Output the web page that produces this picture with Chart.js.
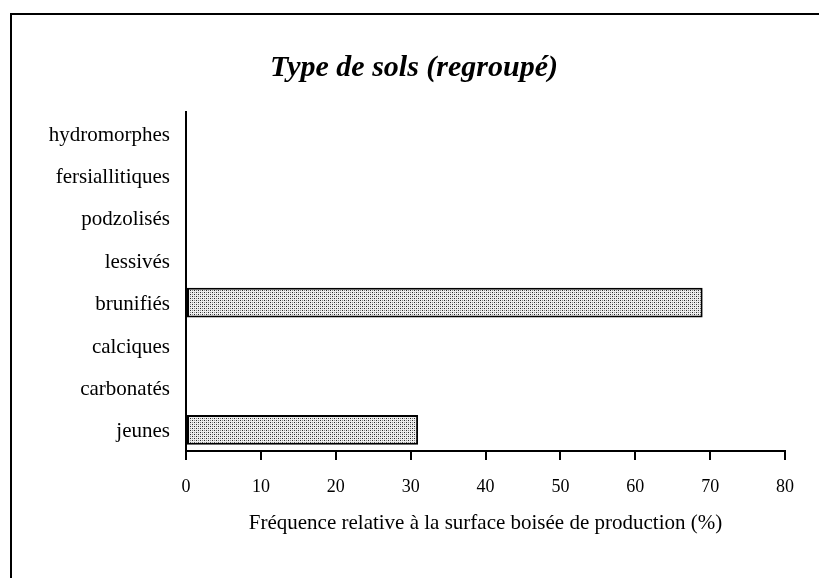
<!DOCTYPE html>
<html lang="fr">
<head>
    <meta charset="UTF-8">
    <title>Type de sols (regroupé)</title>
    <script src="https://cdn.jsdelivr.net/npm/chart.js"></script>
    <style>
        body { margin: 0; background: #ffffff; overflow: hidden; }
        .frame {
            position: absolute;
            left: 10px;
            top: 13px;
            width: 900px;
            height: 700px;
            border-top: 2px solid #000;
            border-left: 2px solid #000;
        }
        .wrap { position: absolute; left: 0; top: 0; width: 819px; height: 578px; }
    </style>
</head>
<body>
    <div class="frame"></div>
    <div class="wrap">
        <canvas id="solsChart" width="819" height="578"></canvas>
    </div>

    <script>
        // Données
        const categories = ['hydromorphes', 'fersiallitiques', 'podzolisés', 'lessivés',
                            'brunifiés', 'calciques', 'carbonatés', 'jeunes'];
        const frequences = [0, 0, 0, 0, 69, 0, 0, 31];
        const xTicks = [0, 10, 20, 30, 40, 50, 60, 70, 80];

        // Trame pointillée des barres
        function makePattern() {
            const c = document.createElement('canvas');
            c.width = 4; c.height = 4;
            const g = c.getContext('2d');
            g.fillStyle = '#eeeeee';
            g.fillRect(0, 0, 4, 4);
            g.fillStyle = '#2a2a2a';
            g.fillRect(0, 0, 1, 1);
            g.fillRect(2, 2, 1, 1);
            g.fillStyle = '#8a8a8a';
            g.fillRect(2, 0, 1, 1);
            g.fillRect(0, 2, 1, 1);
            return g.createPattern(c, 'repeat');
        }

        const serif = "'Liberation Serif', 'Times New Roman', serif";

        const ctx = document.getElementById('solsChart').getContext('2d');
        const solsChart = new Chart(ctx, {
            type: 'bar',
            data: {
                labels: categories,
                datasets: [{
                    data: frequences,
                    backgroundColor: makePattern(),
                    borderColor: '#000',
                    borderWidth: 2,
                    borderSkipped: false,
                    barPercentage: 0.7,
                    categoryPercentage: 1
                }]
            },
            options: {
                indexAxis: 'y',
                responsive: false,
                animation: false,
                layout: { padding: { left: 43, right: 34, top: 0, bottom: 0 } },
                scales: {
                    x: {
                        min: 0,
                        max: 80,
                        afterBuildTicks: axis => { axis.ticks = xTicks.map(v => ({ value: v })); },
                        afterFit: axis => { axis.height = 127; },
                        border: { display: true, color: '#000', width: 2 },
                        grid: {
                            display: true,
                            drawOnChartArea: false,
                            drawTicks: true,
                            tickLength: 9,
                            color: '#000',
                            lineWidth: 2
                        },
                        ticks: {
                            color: '#000',
                            padding: 16,
                            maxRotation: 0,
                            font: { family: serif, size: 18 }
                        },
                        title: {
                            display: true,
                            text: 'Fréquence relative à la surface boisée de production (%)',
                            color: '#000',
                            padding: { top: 0, bottom: 42 },
                            font: { family: serif, size: 21 }
                        }
                    },
                    y: {
                        afterFit: axis => { axis.width = 143; },
                        border: { display: true, color: '#000', width: 2 },
                        grid: { display: false, drawTicks: false },
                        ticks: {
                            color: '#000',
                            padding: 16,
                            labelOffset: 2,
                            font: { family: serif, size: 21 }
                        }
                    }
                },
                plugins: {
                    legend: { display: false },
                    tooltip: { enabled: false },
                    title: {
                        display: true,
                        text: 'Type de sols (regroupé)',
                        color: '#000',
                        padding: { top: 50, bottom: 26 },
                        font: { family: serif, size: 30, style: 'italic', weight: 'bold' }
                    }
                }
            }
        });
    </script>
</body>
</html>
